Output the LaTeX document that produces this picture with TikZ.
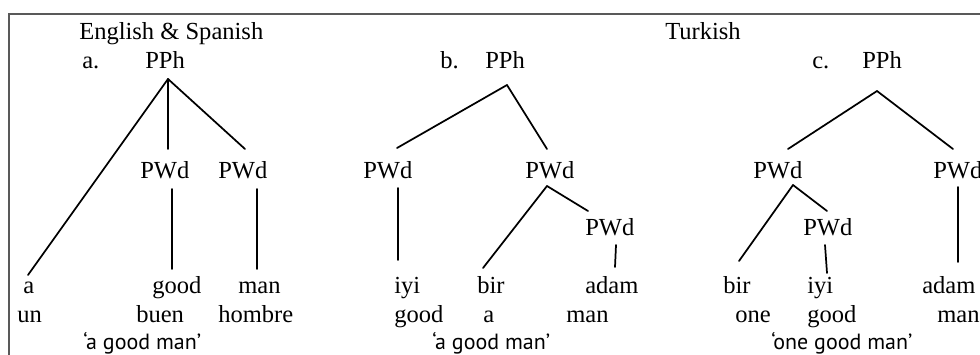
\documentclass[tikz,border=0pt]{standalone}
\usepackage{fontspec}
\setmainfont{Liberation Serif}
\newfontfamily\glossfont[Ligatures=TeX]{PT Sans}
\usetikzlibrary{positioning}
\tikzset{
  word/.style={anchor=base west, inner sep=0pt,
    font=\fontsize{18.4}{22}\selectfont},
  gloss/.style={anchor=base west, inner sep=0pt,
    font=\glossfont\fontsize{16.5}{19}\selectfont},
  branch/.style={line width=1.3pt, line cap=round},
  frame/.style={draw=black!65, line width=0.9pt},
}

\begin{document}
\begin{tikzpicture}[x=0.75pt, y=-0.75pt]

        \useasboundingbox (0,0) rectangle (980,354);

        \draw [frame] (9,360) -- (9,14) -- (990,14);

        % (a) English & Spanish
        \node [word] (es) at (79,39) {English \& Spanish};
        \node [word] (a-lab) at (82,68.5) {a.};
        \node [word] (a-pph) at (145,68.5) {PPh};
        \node [word] (a-pwd1) at (140,178) {PWd};
        \node [word] (a-pwd2) at (218,178) {PWd};
        \node [word] (a-w1) at (23,293) {a};
        \node [word] (a-w2) at (152,293) {good};
        \node [word] (a-w3) at (238,293) {man};
        \node [word] (a-s1) at (17,322) {un};
        \node [word] (a-s2) at (136,322) {buen};
        \node [word] (a-s3) at (218,322) {hombre};
        \node [gloss] (a-gl) at (83,349) {‘a good man’};

        \coordinate (a-top) at (168,79);
        \coordinate (a-leaf) at (28,275);
        \coordinate (a-m1) at (168,149);
        \coordinate (a-m2) at (245,149);
        \coordinate (a-v1t) at (172,189);
        \coordinate (a-v1b) at (172,269);
        \coordinate (a-v2t) at (257,189);
        \coordinate (a-v2b) at (257,269);

        \draw [branch] (a-top) -- (a-leaf);
        \draw [branch] (a-top) -- (a-m1);
        \draw [branch] (a-top) -- (a-m2);
        \draw [branch] (a-v1t) -- (a-v1b);
        \draw [branch] (a-v2t) -- (a-v2b);

        % (b) Turkish, adjective first
        \node [word] (b-lab) at (440,68.5) {b.};
        \node [word] (b-pph) at (485,68.5) {PPh};
        \node [word] (b-pwd1) at (363,178) {PWd};
        \node [word] (b-pwd2) at (525,178) {PWd};
        \node [word] (b-pwd3) at (585,235) {PWd};
        \node [word] (b-w1) at (394,293) {iyi};
        \node [word] (b-w2) at (477,293) {bir};
        \node [word] (b-w3) at (585,293) {adam};
        \node [word] (b-s1) at (394,322) {good};
        \node [word] (b-s2) at (483,322) {a};
        \node [word] (b-s3) at (566,322) {man};
        \node [gloss] (b-gl) at (432,349) {‘a good man’};

        \coordinate (b-top) at (507,85);
        \coordinate (b-l) at (397,148);
        \coordinate (b-r) at (547,149);
        \coordinate (b-vt) at (398,188);
        \coordinate (b-vb) at (398,260);
        \coordinate (b-j) at (547,186);
        \coordinate (b-leaf) at (483,268);
        \coordinate (b-sub) at (588,211);
        \coordinate (b-ut) at (616,245);
        \coordinate (b-ub) at (615,267);

        \draw [branch] (b-top) -- (b-l);
        \draw [branch] (b-top) -- (b-r);
        \draw [branch] (b-vt) -- (b-vb);
        \draw [branch] (b-j) -- (b-leaf);
        \draw [branch] (b-j) -- (b-sub);
        \draw [branch] (b-ut) -- (b-ub);

        % (c) Turkish, numeral first
        \node [word] (tr) at (665,39) {Turkish};
        \node [word] (c-lab) at (812,68.5) {c.};
        \node [word] (c-pph) at (862,68.5) {PPh};
        \node [word] (c-pwd1) at (753,178) {PWd};
        \node [word] (c-pwd2) at (933,178) {PWd};
        \node [word] (c-pwd3) at (803,235) {PWd};
        \node [word] (c-w1) at (723,293) {bir};
        \node [word] (c-w2) at (807,293) {iyi};
        \node [word] (c-w3) at (922,293) {adam};
        \node [word] (c-s1) at (735,322) {one};
        \node [word] (c-s2) at (807,322) {good};
        \node [word] (c-s3) at (937,322) {man};
        \node [gloss] (c-gl) at (771,349) {‘one good man’};

        \coordinate (c-top) at (877,91);
        \coordinate (c-l) at (788,149);
        \coordinate (c-r) at (953,149);
        \coordinate (c-j) at (793,185);
        \coordinate (c-leaf) at (739,261);
        \coordinate (c-sub) at (827,211);
        \coordinate (c-ut) at (825,245);
        \coordinate (c-ub) at (827,273);
        \coordinate (c-vt) at (958,187);
        \coordinate (c-vb) at (958,262);

        \draw [branch] (c-top) -- (c-l);
        \draw [branch] (c-top) -- (c-r);
        \draw [branch] (c-j) -- (c-leaf);
        \draw [branch] (c-j) -- (c-sub);
        \draw [branch] (c-ut) -- (c-ub);
        \draw [branch] (c-vt) -- (c-vb);

\end{tikzpicture}
\end{document}
